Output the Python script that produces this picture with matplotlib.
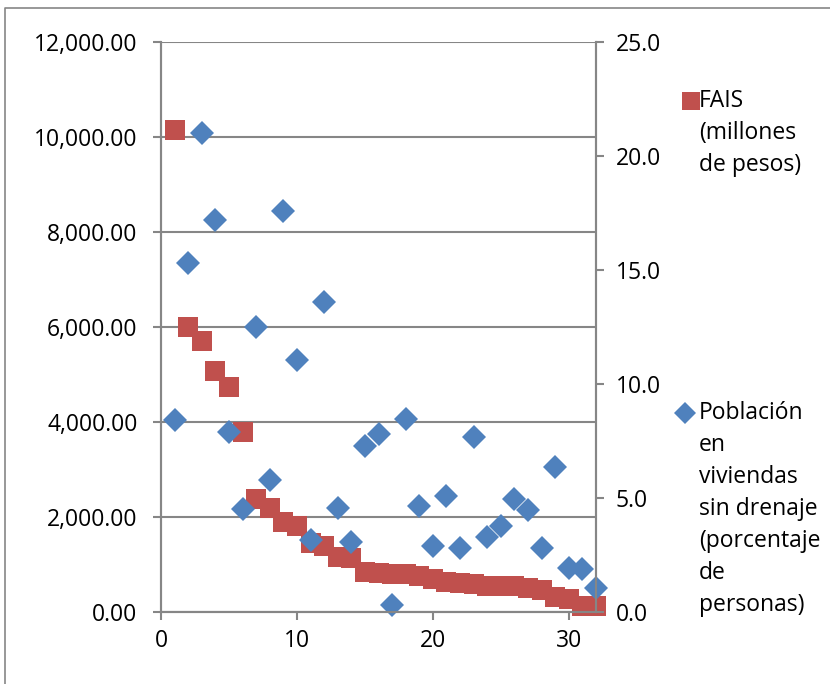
import numpy as np
import matplotlib
matplotlib.use("Agg")
import matplotlib.pyplot as plt
from matplotlib.lines import Line2D
from matplotlib.ticker import FuncFormatter, MultipleLocator

plt.rcParams["font.family"] = ["Open Sans", "DejaVu Sans"]
plt.rcParams.update({'font.size': 16.5})

#%% Data

estado = np.arange(1, 33)

fais = [10150, 6010, 5700, 5070, 4730, 3790, 2375, 2185, 1895, 1805,
        1445, 1385, 1160, 1140, 845, 825, 800, 790, 760, 695,
        635, 610, 590, 550, 540, 540, 500, 460, 315, 270, 125, 125]

sin_drenaje = [8.4, 15.3, 21.0, 17.2, 7.9, 4.5, 12.5, 5.8, 17.6, 11.05,
               3.15, 13.6, 4.55, 3.07, 7.28, 7.8, 0.3, 8.45, 4.65, 2.9,
               5.1, 2.8, 7.68, 3.3, 3.77, 4.95, 4.47, 2.8, 6.36, 1.93,
               1.9, 1.05]

red = '#C0504D'
blue = '#4F81BD'
gray = '#868686'

#%% Plot

fig = plt.figure(figsize=(8.3, 6.84), dpi=100)
ax1 = fig.add_axes([161/830, 1-612/684, (596-161)/830, (612-42)/684])
ax2 = ax1.twinx()

ax1.plot(estado, fais, 's', color=red, markersize=14.5, markeredgewidth=0,
         clip_on=False, label='FAIS')
ax2.plot(estado, sin_drenaje, 'D', color=blue, markersize=12,
         markeredgewidth=0, clip_on=False, label='Poblacion')

ax1.set_xlim(0, 32)
ax1.set_ylim(0, 12000)
ax2.set_ylim(0, 25)
ax1.xaxis.set_major_locator(MultipleLocator(10))
ax1.yaxis.set_major_locator(MultipleLocator(2000))
ax2.yaxis.set_major_locator(MultipleLocator(5))
ax1.yaxis.set_major_formatter(FuncFormatter(lambda v, p: '{:,.2f}'.format(v)))
ax2.yaxis.set_major_formatter(FuncFormatter(lambda v, p: '{:.1f}'.format(v)))

ax1.grid(axis='y', color=gray, linewidth=1.5)
ax1.set_axisbelow(True)

for a in (ax1, ax2):
    a.spines['top'].set_visible(False)
    for s in ('left', 'right', 'bottom'):
        a.spines[s].set_color(gray)
        a.spines[s].set_linewidth(1.5)
    a.tick_params(length=6, width=1.5, color=gray, labelcolor='black')
ax1.tick_params(axis='y', pad=11)
ax1.tick_params(axis='x', pad=6)
ax2.tick_params(axis='y', pad=8)

# legend, drawn by hand so markers sit beside the first line
fig.add_artist(Line2D([691/830], [1-101/684], marker='s', color=red,
                      markersize=12.5, markeredgewidth=0))
fig.text(699/830, 1-89/684, 'FAIS\n(millones\nde pesos)', va='top',
         ha='left', linespacing=1.44)
fig.add_artist(Line2D([685/830], [1-413/684], marker='D', color=blue,
                      markersize=11.5, markeredgewidth=0))
fig.text(699/830, 1-401/684,
         'Población\nen\nviviendas\nsin drenaje\n(porcentaje\nde\npersonas)',
         va='top', ha='left', linespacing=1.44)

# outer frame of the chart area
fig.add_artist(Line2D([5/830, 5/830, 1], [0, 1-8/684, 1-8/684],
                      color=gray, linewidth=1.2))

fig.savefig('out.png', dpi=100)
